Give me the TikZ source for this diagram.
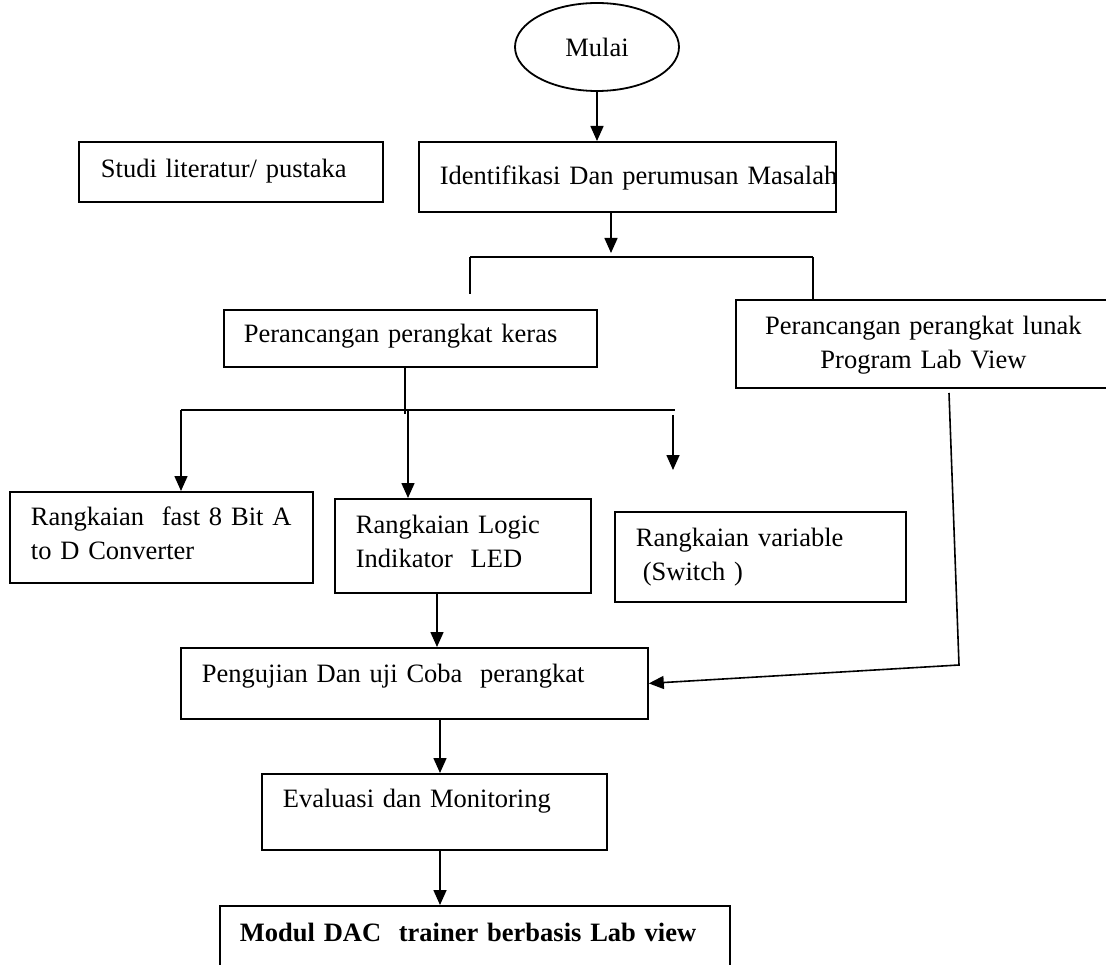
\documentclass[tikz,border=0pt]{standalone}
\usepackage{fontspec}
\setmainfont{Liberation Serif}
\usepackage{tikz}
\usetikzlibrary{shapes.geometric,arrows.meta}
\tikzset{
	kotak/.style={draw, line width=1.8pt, anchor=north west, inner xsep=21pt, inner ysep=0pt, align=left, font=\fontsize{26.5}{34}\selectfont},
	panah/.style={line width=1.6pt, -{Triangle[length=15pt,width=13pt]}},
	garis/.style={line width=1.6pt},
	cabang/.style={line width=2.4pt}
}

\begin{document}
\begin{tikzpicture}[x=1pt,y=-1pt]
						\useasboundingbox (0,0) rectangle (1106,965);
						\clip (0,0) rectangle (1106,965);
						
						\node[draw, ellipse, line width=1.8pt, minimum width=164pt, minimum height=88pt, inner sep=0pt, font=\fontsize{26.5}{34}\selectfont] (mulai) at (597,47) {Mulai};
						
						\node[kotak, inner xsep=22pt, text width=260pt, text height=36pt, text depth=24pt] (studi) at (78,141) {Studi literatur/ pustaka};
						\node[kotak, text width=375pt, text height=43pt, text depth=27pt] (ident) at (418,141) {\mbox{Identifikasi Dan perumusan Masalah}};
						\node[kotak, inner xsep=20pt, text width=333pt, text height=33pt, text depth=24pt] (keras) at (223,309) {Perancangan perangkat keras};
						\node[kotak, inner xsep=20pt, align=center, text width=335pt, text height=35pt, text depth=53pt] (lunak) at (735,299) {Perancangan perangkat lunak\\Program Lab View};
						\node[kotak, text width=261pt, text height=34pt, text depth=57pt] (fast) at (9,491) {Rangkaian~ fast 8 Bit A\\to D Converter};
						\node[kotak, text width=214pt, text height=35pt, text depth=59pt] (logic) at (334,498) {Rangkaian Logic\\Indikator~ LED};
						\node[kotak, text width=249pt, text height=35pt, text depth=55pt] (variabel) at (614,511) {Rangkaian variable\\\hspace*{7pt}(Switch )};
						\node[kotak, text width=425pt, text height=35pt, text depth=36pt] (uji) at (180,647) {Pengujian Dan uji Coba~ perangkat};
						\node[kotak, text width=303pt, text height=34pt, text depth=42pt] (evaluasi) at (261,773) {Evaluasi dan Monitoring};
						\node[kotak, inner xsep=20pt, text width=470pt, text height=36pt, text depth=40pt] (modul) at (219,905) {\textbf{Modul DAC~ trainer berbasis Lab view}};
						
						\coordinate (c1) at (611,253);
						\coordinate (b1kiri) at (470,257);
						\coordinate (b1kanan) at (813,257);
						\coordinate (b1ujung) at (470,294);
						\coordinate (k1) at (405,414);
						\coordinate (b2kiri) at (181,410);
						\coordinate (b2kanan) at (675,410);
						\coordinate (p1) at (408,410);
						\coordinate (p2) at (673,415);
						\coordinate (p2ujung) at (673,470);
						\coordinate (l1) at (437,0);
						\coordinate (s1) at (949,393);
						\coordinate (s2) at (959,665);
						\coordinate (sumbu) at (440,0);
						
						\draw[panah] (mulai.south) -- (mulai.south |- ident.north);
						\draw[panah] (ident.south -| c1) -- (c1);
						\draw[cabang] (b1kiri) -- (b1kanan);
						\draw[garis] (b1kiri) -- (b1ujung);
						\draw[garis] (b1kanan) -- (b1kanan |- lunak.north);
						\draw[garis] (keras.south -| k1) -- (k1);
						\draw[cabang] (b2kiri) -- (b2kanan);
						\draw[panah] (b2kiri) -- (fast.north -| b2kiri);
						\draw[panah] (p1) -- (logic.north -| p1);
						\draw[panah] (p2) -- (p2ujung);
						\draw[panah] (logic.south -| l1) -- (uji.north -| l1);
						\draw[panah] (s1) -- (s2) -- (uji.east);
						\draw[panah] (uji.south -| sumbu) -- (evaluasi.north -| sumbu);
						\draw[panah] (evaluasi.south -| sumbu) -- (modul.north -| sumbu);
					\end{tikzpicture}
\end{document}
